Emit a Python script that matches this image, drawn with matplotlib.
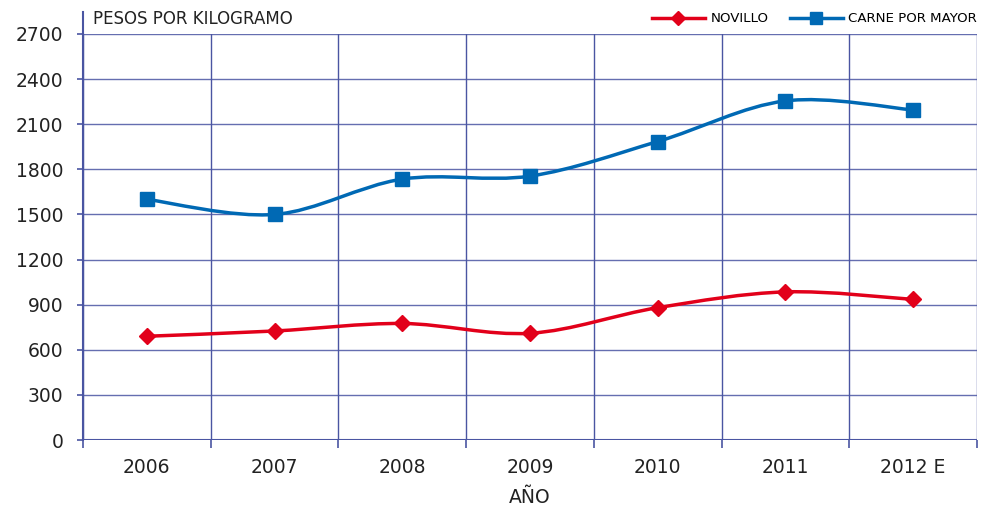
import matplotlib.pyplot as plt
from matplotlib.path import Path
from matplotlib.patches import PathPatch
from matplotlib.lines import Line2D

# chart data
years = ['2006', '2007', '2008', '2009', '2010', '2011', '2012 E']
novillo = [690, 725, 775, 710, 880, 985, 935]
carne_mayor = [1600, 1500, 1735, 1755, 1985, 2255, 2195]

RED = '#e2001a'
BLUE = '#0069b4'
GRID = '#4a55a2'

plt.rcParams['font.family'] = ['DejaVu Sans']


def smooth_path(xs, ys):
    """Excel-like smoothed line: cubic bezier segments through the points"""
    pts = list(zip(xs, ys))
    verts = [pts[0]]
    codes = [Path.MOVETO]
    n = len(pts)
    for i in range(n - 1):
        p0 = pts[i - 1] if i > 0 else pts[i]
        p1 = pts[i]
        p2 = pts[i + 1]
        p3 = pts[i + 2] if i + 2 < n else pts[i + 1]
        c1 = (p1[0] + (p2[0] - p0[0]) / 6, p1[1] + (p2[1] - p0[1]) / 6)
        c2 = (p2[0] - (p3[0] - p1[0]) / 6, p2[1] - (p3[1] - p1[1]) / 6)
        verts += [c1, c2, p2]
        codes += [Path.CURVE4] * 3
    return Path(verts, codes)


fig = plt.figure(figsize=(9.87, 5.11), dpi=100)
ax = fig.add_axes([0.0841, 0.1389, 0.9058, 0.7946])

x = list(range(len(years)))

for vals, color, marker, ms in [(novillo, RED, 'D', 8.5),
                                (carne_mayor, BLUE, 's', 9.5)]:
    ax.add_patch(PathPatch(smooth_path(x, vals), facecolor='none',
                           edgecolor=color, lw=2.5, zorder=3))
    ax.plot(x, vals, linestyle='none', marker=marker, color=color,
            markersize=ms, zorder=4)

ax.set_xlim(-0.5, len(years) - 0.5)
ax.set_ylim(0, 2700)
ax.set_yticks(range(0, 2701, 300))
ax.set_xticks(x)
ax.set_xticklabels(years)
ax.set_xticks([i - 0.5 for i in range(len(years) + 1)], minor=True)

# grid
ax.grid(axis='y', color=GRID, lw=1, alpha=0.85)
ax.grid(axis='x', which='minor', color=GRID, lw=1)
ax.set_axisbelow(True)

for s in ['top', 'right', 'bottom']:
    ax.spines[s].set_visible(False)
ax.spines['left'].set_color(GRID)
ax.spines['left'].set_linewidth(1.5)
ax.axhline(0, color=GRID, lw=1.5, zorder=2)
# left axis line goes a bit above the top
ax.add_line(Line2D([0, 0], [1, 1.055], transform=ax.transAxes, color=GRID,
                   lw=1.5, clip_on=False))

ax.tick_params(axis='x', which='major', length=0, labelsize=13.5, pad=13,
               colors='#222222')
ax.tick_params(axis='x', which='minor', length=6, width=1.2, color=GRID)
ax.tick_params(axis='y', length=4, width=1.2, labelsize=13.5, pad=10,
               colors=GRID, labelcolor='#222222')

ax.set_xlabel('AÑO', fontsize=13.5, color='#222222', labelpad=8)

fig.text(0.094, 0.963, 'PESOS POR KILOGRAMO', fontsize=12, color='#222222',
         va='center', ha='left')

handles = [Line2D([], [], color=RED, lw=2.5, marker='D', markersize=7.5),
           Line2D([], [], color=BLUE, lw=2.5, marker='s', markersize=8.5)]
fig.legend(handles, ['NOVILLO', 'CARNE POR MAYOR'], loc='center right',
           bbox_to_anchor=(0.99, 0.963), ncol=2, frameon=False,
           fontsize=9.6, handlelength=4.0, columnspacing=1.6,
           handletextpad=0.4, borderpad=0, borderaxespad=0)

fig.savefig('out.png', dpi=100)
